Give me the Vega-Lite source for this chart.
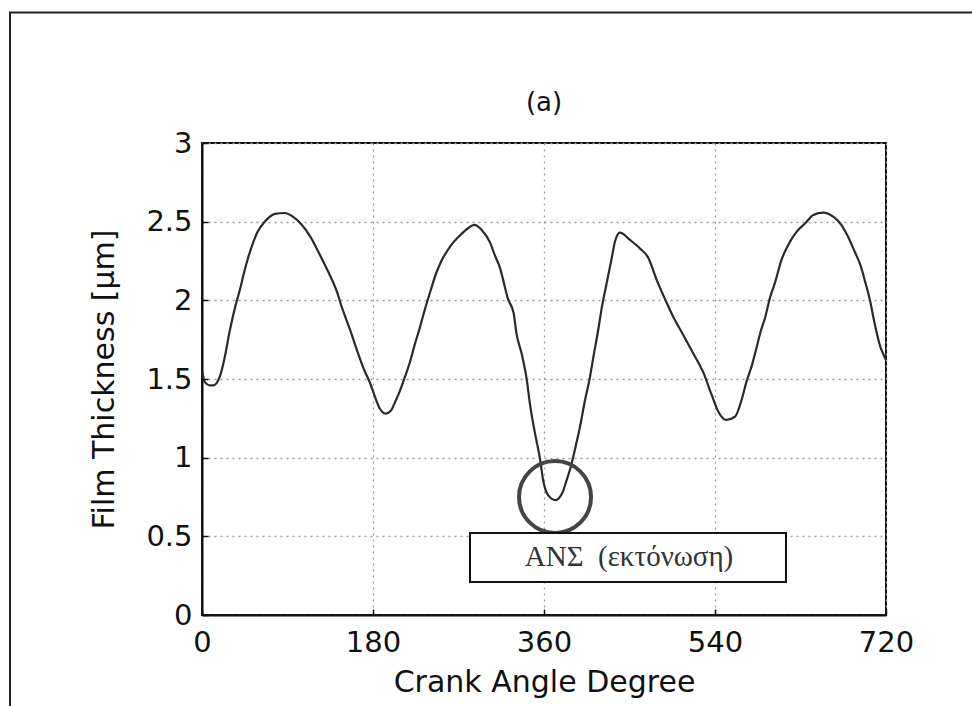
{
  "$schema": "https://vega.github.io/schema/vega-lite/v6.json",
  "width": 684,
  "height": 472,
  "autosize": {"type": "none"},
  "padding": {"left": 202, "top": 143, "right": 86, "bottom": 91},
  "background": "white",
  "title": {"text": "(a)", "font": "DejaVu Sans", "fontSize": 26, "fontWeight": "normal", "color": "#111", "baseline": "bottom", "offset": -131},
  "config": {
    "view": {"stroke": "#111", "strokeWidth": 2},
    "axis": {
      "labelFont": "DejaVu Sans", "labelFontSize": 29, "labelColor": "#111", "labelFlush": false,
      "titleFont": "DejaVu Sans", "titleFontSize": 30, "titleFontWeight": "normal", "titleColor": "#111",
      "domainColor": "#111", "domainWidth": 2,
      "tickColor": "#111", "tickSize": -6, "tickWidth": 1.5,
      "gridColor": "#9a9a9a", "gridDash": [2, 4], "gridWidth": 1.3
    }
  },
  "datasets": {
    "film": [
      {"angle": 0, "h": 1.56}, {"angle": 3, "h": 1.48}, {"angle": 8, "h": 1.46}, {"angle": 12, "h": 1.46},
      {"angle": 19, "h": 1.52}, {"angle": 24, "h": 1.64}, {"angle": 29, "h": 1.8}, {"angle": 35, "h": 1.96},
      {"angle": 40, "h": 2.07}, {"angle": 44, "h": 2.17}, {"angle": 49, "h": 2.28}, {"angle": 54, "h": 2.37},
      {"angle": 58, "h": 2.43}, {"angle": 66, "h": 2.5}, {"angle": 77, "h": 2.55}, {"angle": 87, "h": 2.555},
      {"angle": 96, "h": 2.53}, {"angle": 105, "h": 2.48}, {"angle": 114, "h": 2.405}, {"angle": 124, "h": 2.29},
      {"angle": 133, "h": 2.18}, {"angle": 142, "h": 2.055}, {"angle": 147, "h": 1.96}, {"angle": 156, "h": 1.81},
      {"angle": 163, "h": 1.685}, {"angle": 170, "h": 1.568}, {"angle": 177, "h": 1.473}, {"angle": 182, "h": 1.388},
      {"angle": 187, "h": 1.314}, {"angle": 193, "h": 1.28}, {"angle": 199, "h": 1.3}, {"angle": 203, "h": 1.35},
      {"angle": 208, "h": 1.42}, {"angle": 214, "h": 1.52}, {"angle": 219, "h": 1.61}, {"angle": 224, "h": 1.72},
      {"angle": 229, "h": 1.82}, {"angle": 234, "h": 1.93}, {"angle": 240, "h": 2.05}, {"angle": 247, "h": 2.18},
      {"angle": 252, "h": 2.25}, {"angle": 261, "h": 2.34}, {"angle": 272, "h": 2.415}, {"angle": 280, "h": 2.458},
      {"angle": 287, "h": 2.48}, {"angle": 294, "h": 2.45}, {"angle": 303, "h": 2.37}, {"angle": 308, "h": 2.29},
      {"angle": 314, "h": 2.2}, {"angle": 317, "h": 2.13}, {"angle": 322, "h": 2.01}, {"angle": 328, "h": 1.92},
      {"angle": 331, "h": 1.79}, {"angle": 336.5, "h": 1.66}, {"angle": 342, "h": 1.49}, {"angle": 345, "h": 1.35},
      {"angle": 350.5, "h": 1.155}, {"angle": 356, "h": 0.985}, {"angle": 359, "h": 0.86}, {"angle": 364.5, "h": 0.76},
      {"angle": 372, "h": 0.73}, {"angle": 379.6, "h": 0.78}, {"angle": 384, "h": 0.86}, {"angle": 389, "h": 0.96},
      {"angle": 394, "h": 1.09}, {"angle": 398, "h": 1.2}, {"angle": 403, "h": 1.36}, {"angle": 408, "h": 1.5},
      {"angle": 412, "h": 1.64}, {"angle": 417, "h": 1.81}, {"angle": 421, "h": 1.96}, {"angle": 426, "h": 2.11},
      {"angle": 431, "h": 2.26}, {"angle": 435, "h": 2.38}, {"angle": 440, "h": 2.43}, {"angle": 450.5, "h": 2.384},
      {"angle": 461, "h": 2.33}, {"angle": 470, "h": 2.268}, {"angle": 478.6, "h": 2.13}, {"angle": 487, "h": 2.013},
      {"angle": 496, "h": 1.896}, {"angle": 506.6, "h": 1.78}, {"angle": 517, "h": 1.664}, {"angle": 528, "h": 1.537},
      {"angle": 536.5, "h": 1.399}, {"angle": 543.5, "h": 1.292}, {"angle": 552, "h": 1.24}, {"angle": 561, "h": 1.26},
      {"angle": 568, "h": 1.367}, {"angle": 573, "h": 1.48}, {"angle": 579, "h": 1.59}, {"angle": 584, "h": 1.706},
      {"angle": 588, "h": 1.8}, {"angle": 593, "h": 1.896}, {"angle": 598, "h": 2.02}, {"angle": 603, "h": 2.109},
      {"angle": 610, "h": 2.257}, {"angle": 619, "h": 2.373}, {"angle": 626, "h": 2.437}, {"angle": 635, "h": 2.49},
      {"angle": 643.5, "h": 2.543}, {"angle": 654, "h": 2.558}, {"angle": 664.5, "h": 2.532}, {"angle": 673, "h": 2.48},
      {"angle": 680, "h": 2.405}, {"angle": 687, "h": 2.31}, {"angle": 693, "h": 2.225}, {"angle": 698, "h": 2.119},
      {"angle": 703, "h": 2.003}, {"angle": 708, "h": 1.855}, {"angle": 714, "h": 1.706}, {"angle": 716, "h": 1.674},
      {"angle": 720, "h": 1.62}
    ],
    "note": [{"label": "ΑΝΣ\u00a0\u00a0(εκτόνωση)"}]
  },
  "layer": [
    {
      "data": {"name": "film"},
      "mark": {"type": "line", "color": "#2a2a2a", "strokeWidth": 2.2, "interpolate": "monotone"},
      "encoding": {
        "x": {"field": "angle", "type": "quantitative",
              "scale": {"domain": [0, 720], "nice": false, "zero": false},
              "axis": {"values": [0, 180, 360, 540, 720], "title": "Crank Angle Degree", "labelPadding": 19, "titlePadding": 10, "grid": true}},
        "y": {"field": "h", "type": "quantitative",
              "scale": {"domain": [0, 3], "nice": false, "zero": false},
              "axis": {"values": [0, 0.5, 1, 1.5, 2, 2.5, 3], "format": "~g", "title": "Film Thickness [μm]", "labelPadding": 16, "titlePadding": 26, "grid": true}}
      }
    },
    {
      "data": {"name": "note"},
      "mark": {"type": "rect", "fill": "white", "fillOpacity": 0, "stroke": "#222", "strokeWidth": 2},
      "encoding": {
        "x": {"datum": -202.1, "type": "quantitative"},
        "x2": {"datum": 830},
        "y": {"datum": 3.83, "type": "quantitative"},
        "y2": {"datum": -0.8}
      }
    },
    {
      "data": {"name": "note"},
      "mark": {"type": "point", "shape": "circle", "filled": false, "stroke": "#444", "strokeWidth": 4, "size": 5184, "opacity": 1},
      "encoding": {
        "x": {"datum": 371.6, "type": "quantitative"},
        "y": {"datum": 0.75, "type": "quantitative"}
      }
    },
    {
      "data": {"name": "note"},
      "mark": {"type": "rect", "fill": "white", "stroke": "#111", "strokeWidth": 2},
      "encoding": {
        "x": {"datum": 282.1, "type": "quantitative"},
        "x2": {"datum": 614.7},
        "y": {"datum": 0.521, "type": "quantitative"},
        "y2": {"datum": 0.21}
      }
    },
    {
      "data": {"name": "note"},
      "mark": {"type": "text", "font": "Liberation Serif", "fontSize": 29, "fontWeight": "normal", "color": "#333", "align": "center", "baseline": "middle"},
      "encoding": {
        "x": {"datum": 449.5, "type": "quantitative"},
        "y": {"datum": 0.369, "type": "quantitative"},
        "text": {"field": "label"}
      }
    }
  ]
}
